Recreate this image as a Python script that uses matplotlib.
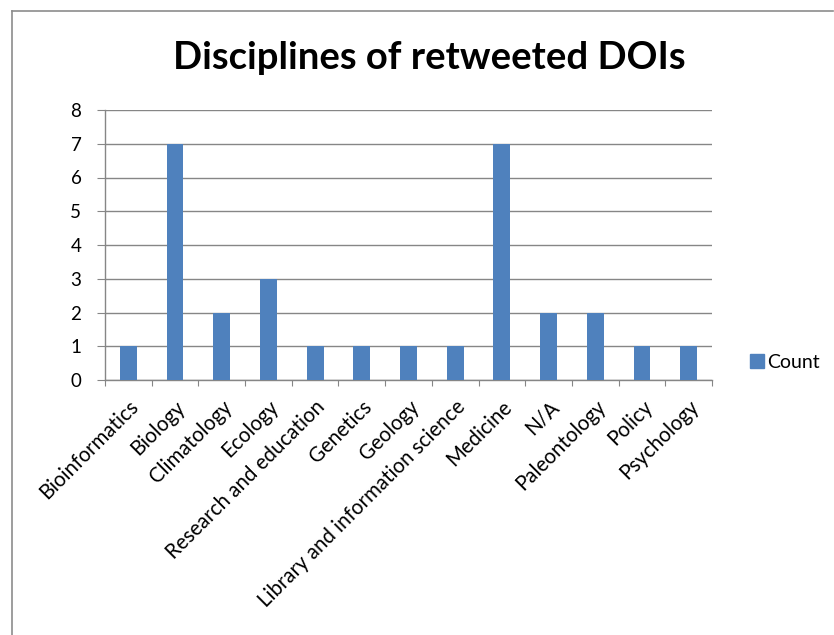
import matplotlib.pyplot as plt
import matplotlib.transforms as mtransforms
from matplotlib.lines import Line2D
from matplotlib.patches import Patch

categories = ["Bioinformatics", "Biology", "Climatology", "Ecology",
              "Research and education", "Genetics", "Geology",
              "Library and information science", "Medicine", "N/A",
              "Paleontology", "Policy", "Psychology"]
counts = [1, 7, 2, 3, 1, 1, 1, 1, 7, 2, 2, 1, 1]
yticks = [0, 1, 2, 3, 4, 5, 6, 7, 8]

plt.rcParams['font.family'] = ['Lato', 'DejaVu Sans']
bar_color = '#4F81BD'
grid_color = '#868686'

fig = plt.figure(figsize=(8.34, 6.35), dpi=100, facecolor='white')

# outer chart frame
fig.add_artist(Line2D([11.5 / 834, 11.5 / 834], [0, 1 - 10.5 / 635],
                      transform=fig.transFigure, color='#8c8c8c', lw=1.2))
fig.add_artist(Line2D([11.5 / 834, 833 / 834], [1 - 10.5 / 635, 1 - 10.5 / 635],
                      transform=fig.transFigure, color='#8c8c8c', lw=1.2))

ax = fig.add_axes([105 / 834, 1 - 380 / 635, 607 / 834, 270 / 635])
x = list(range(len(categories)))
ax.bar(x, counts, width=0.36, color=bar_color, zorder=3)

ax.set_xlim(-0.5, len(categories) - 0.5)
ax.set_ylim(0, 8)
ax.set_yticks(yticks)
ax.set_yticklabels([str(v) for v in yticks], fontsize=13.5)
ax.yaxis.grid(True, color=grid_color, lw=1, zorder=0)

ax.set_xticks([i - 0.5 for i in range(len(categories) + 1)])
ax.set_xticklabels([])
ax.set_xticks(x, minor=True)
ax.set_xticklabels(categories, minor=True, rotation=45, ha='right', va='top',
                   rotation_mode='anchor', fontsize=14.8)
# nudge the slanted labels a little to the right
shift = mtransforms.ScaledTranslation(1 / 100, 0, fig.dpi_scale_trans)
for lab in ax.get_xticklabels(minor=True):
    lab.set_transform(lab.get_transform() + shift)
ax.tick_params(axis='x', which='minor', length=0, pad=12)
ax.tick_params(axis='x', which='major', length=4.5, color=grid_color, direction='out')
ax.tick_params(axis='y', length=6, color=grid_color, direction='out', pad=11)

for side in ['top', 'right']:
    ax.spines[side].set_visible(False)
for side in ['left', 'bottom']:
    ax.spines[side].set_color(grid_color)
    ax.spines[side].set_linewidth(1)

fig.text(429 / 834, 1 - 58 / 635, "Disciplines of retweeted DOIs",
         fontsize=27.5, fontweight='bold', ha='center', va='center')

fig.legend(handles=[Patch(color=bar_color, label='Count')], loc='center left',
           bbox_to_anchor=(732 / 834, 1 - 362 / 635), frameon=False,
           fontsize=14, handlelength=0.75, handleheight=0.75, handletextpad=0.15)

plt.savefig("out.png", dpi=100, facecolor='white')
plt.close(fig)
